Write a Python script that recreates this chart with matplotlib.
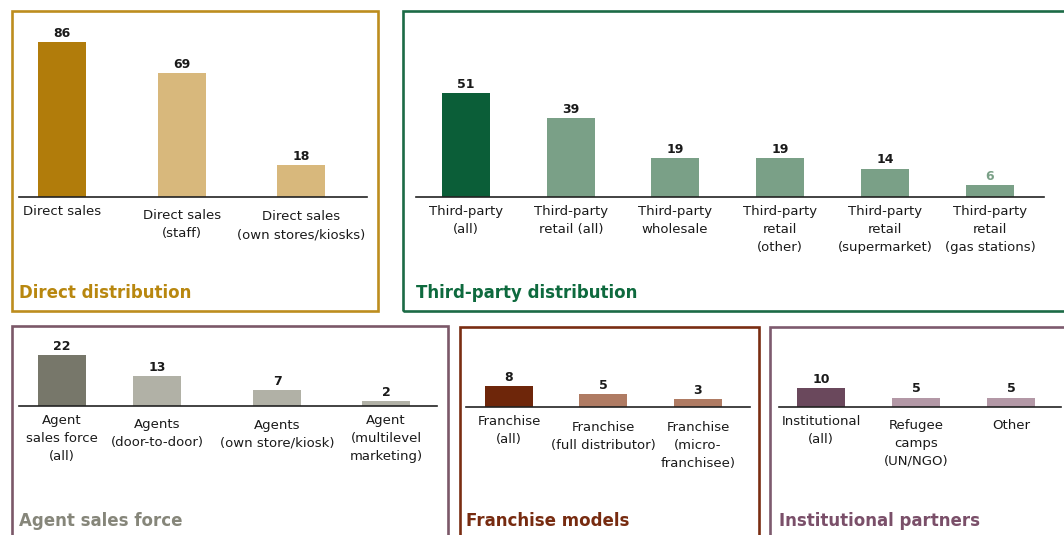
import matplotlib
matplotlib.use("Agg")
import matplotlib.pyplot as plt
from matplotlib.patches import Rectangle

plt.rcParams['font.family'] = ['DejaVu Sans']

# ---------------- data ----------------
direct_labels = ["Direct sales", "Direct sales\n(staff)", "Direct sales\n(own stores/kiosks)"]
direct_values = [86, 69, 18]

third_labels = ["Third-party\n(all)", "Third-party\nretail (all)", "Third-party\nwholesale",
                "Third-party\nretail\n(other)", "Third-party\nretail\n(supermarket)",
                "Third-party\nretail\n(gas stations)"]
third_values = [51, 39, 19, 19, 14, 6]

agent_labels = ["Agent\nsales force\n(all)", "Agents\n(door-to-door)",
                "Agents\n(own store/kiosk)", "Agent\n(multilevel\nmarketing)"]
agent_values = [22, 13, 7, 2]

franchise_labels = ["Franchise\n(all)", "Franchise\n(full distributor)", "Franchise\n(micro-\nfranchisee)"]
franchise_values = [8, 5, 3]

inst_labels = ["Institutional\n(all)", "Refugee\ncamps\n(UN/NGO)", "Other"]
inst_values = [10, 5, 5]

titles = ["Direct distribution", "Third-party distribution", "Agent sales force",
          "Franchise models", "Institutional partners"]

# ---------------- layout / style ----------------
W, H = 1064, 535
fig = plt.figure(figsize=(W / 100, H / 100), dpi=100)
fig.patch.set_facecolor("white")

panels = [
    dict(labels=direct_labels, values=direct_values, title=titles[0],
         box=(12, 11, 378, 311), axis=(19, 367, 197), scale=1.80,
         xs=[62, 182, 301], drops=[0, 4, 5],
         dark="#B17C0B", light="#D8B87C", border="#BD8D1E", tcol="#B8870F",
         title_pos=(19, 298), valcols=None),
    dict(labels=third_labels, values=third_values, title=titles[1],
         box=(403, 11, 1080, 311), axis=(416, 1044, 197), scale=2.03,
         xs=[466, 571, 675, 780, 885, 990], drops=[0, 0, 0, 0, 0, 0],
         dark="#0B5E38", light="#7AA087", border="#1C6B46", tcol="#0E6A3E",
         title_pos=(416, 298), valcols=[None, None, None, None, None, "#7AA087"]),
    dict(labels=agent_labels, values=agent_values, title=titles[2],
         box=(12, 326, 448, 545), axis=(19, 437, 406), scale=2.3,
         xs=[62, 157, 277, 386], drops=[0, 4, 5, 0],
         dark="#77776A", light="#B1B1A6", border="#7B5868", tcol="#86867A",
         title_pos=(19, 526), valcols=None),
    dict(labels=franchise_labels, values=franchise_values, title=titles[3],
         box=(460, 327, 759, 545), axis=(466, 750, 407), scale=2.65,
         xs=[509, 603, 698], drops=[0, 6, 6],
         dark="#6E260A", light="#AF7B63", border="#7A2D12", tcol="#772B10",
         title_pos=(466, 526), valcols=None),
    dict(labels=inst_labels, values=inst_values, title=titles[4],
         box=(770, 327, 1080, 545), axis=(779, 1061, 407), scale=1.9,
         xs=[821, 916, 1011], drops=[0, 4, 4],
         dark="#6A485C", light="#B398A6", border="#7D5A6E", tcol="#7A4F69",
         title_pos=(779, 526), valcols=None),
]

BAR_W = 48
TEXT = "#1A1A1A"

for p in panels:
    # border box
    x0, y0, x1, y1 = p["box"]
    fig.add_artist(Rectangle((x0 / W, 1 - y1 / H), (x1 - x0) / W, (y1 - y0) / H,
                             transform=fig.transFigure, fill=False,
                             edgecolor=p["border"], linewidth=1.9, clip_on=False))
    l, r, base = p["axis"]
    top = base - 175
    ax = fig.add_axes([l / W, 1 - base / H, (r - l) / W, (base - top) / H])
    ax.set_xlim(l, r)
    ax.set_ylim(0, (base - top) / p["scale"])
    ax.patch.set_alpha(0)
    for s in ["top", "left", "right"]:
        ax.spines[s].set_visible(False)
    ax.spines["bottom"].set_color("#222222")
    ax.spines["bottom"].set_linewidth(1.2)
    ax.set_xticks([])
    ax.set_yticks([])

    cols = [p["dark"]] + [p["light"]] * (len(p["values"]) - 1)
    ax.bar(p["xs"], p["values"], width=BAR_W, color=cols, zorder=2)

    for i, (x, v, lab) in enumerate(zip(p["xs"], p["values"], p["labels"])):
        vc = TEXT
        if p["valcols"] and p["valcols"][i]:
            vc = p["valcols"][i]
        ax.annotate(str(v), xy=(x, v), xytext=(0, 1.5), textcoords="offset points",
                    ha="center", va="bottom", fontsize=9, fontweight="bold", color=vc,
                    annotation_clip=False)
        ax.annotate(lab, xy=(x, 0), xycoords=("data", "axes fraction"),
                    xytext=(0, -(8 + p["drops"][i]) * 0.72), textcoords="offset points",
                    ha="center", va="top", fontsize=9.5, color=TEXT, linespacing=1.5,
                    annotation_clip=False)

    tx, ty = p["title_pos"]
    fig.text(tx / W, 1 - ty / H, p["title"], ha="left", va="baseline",
             fontsize=12, fontweight="bold", color=p["tcol"])

fig.savefig("out.png", dpi=100, facecolor="white")
